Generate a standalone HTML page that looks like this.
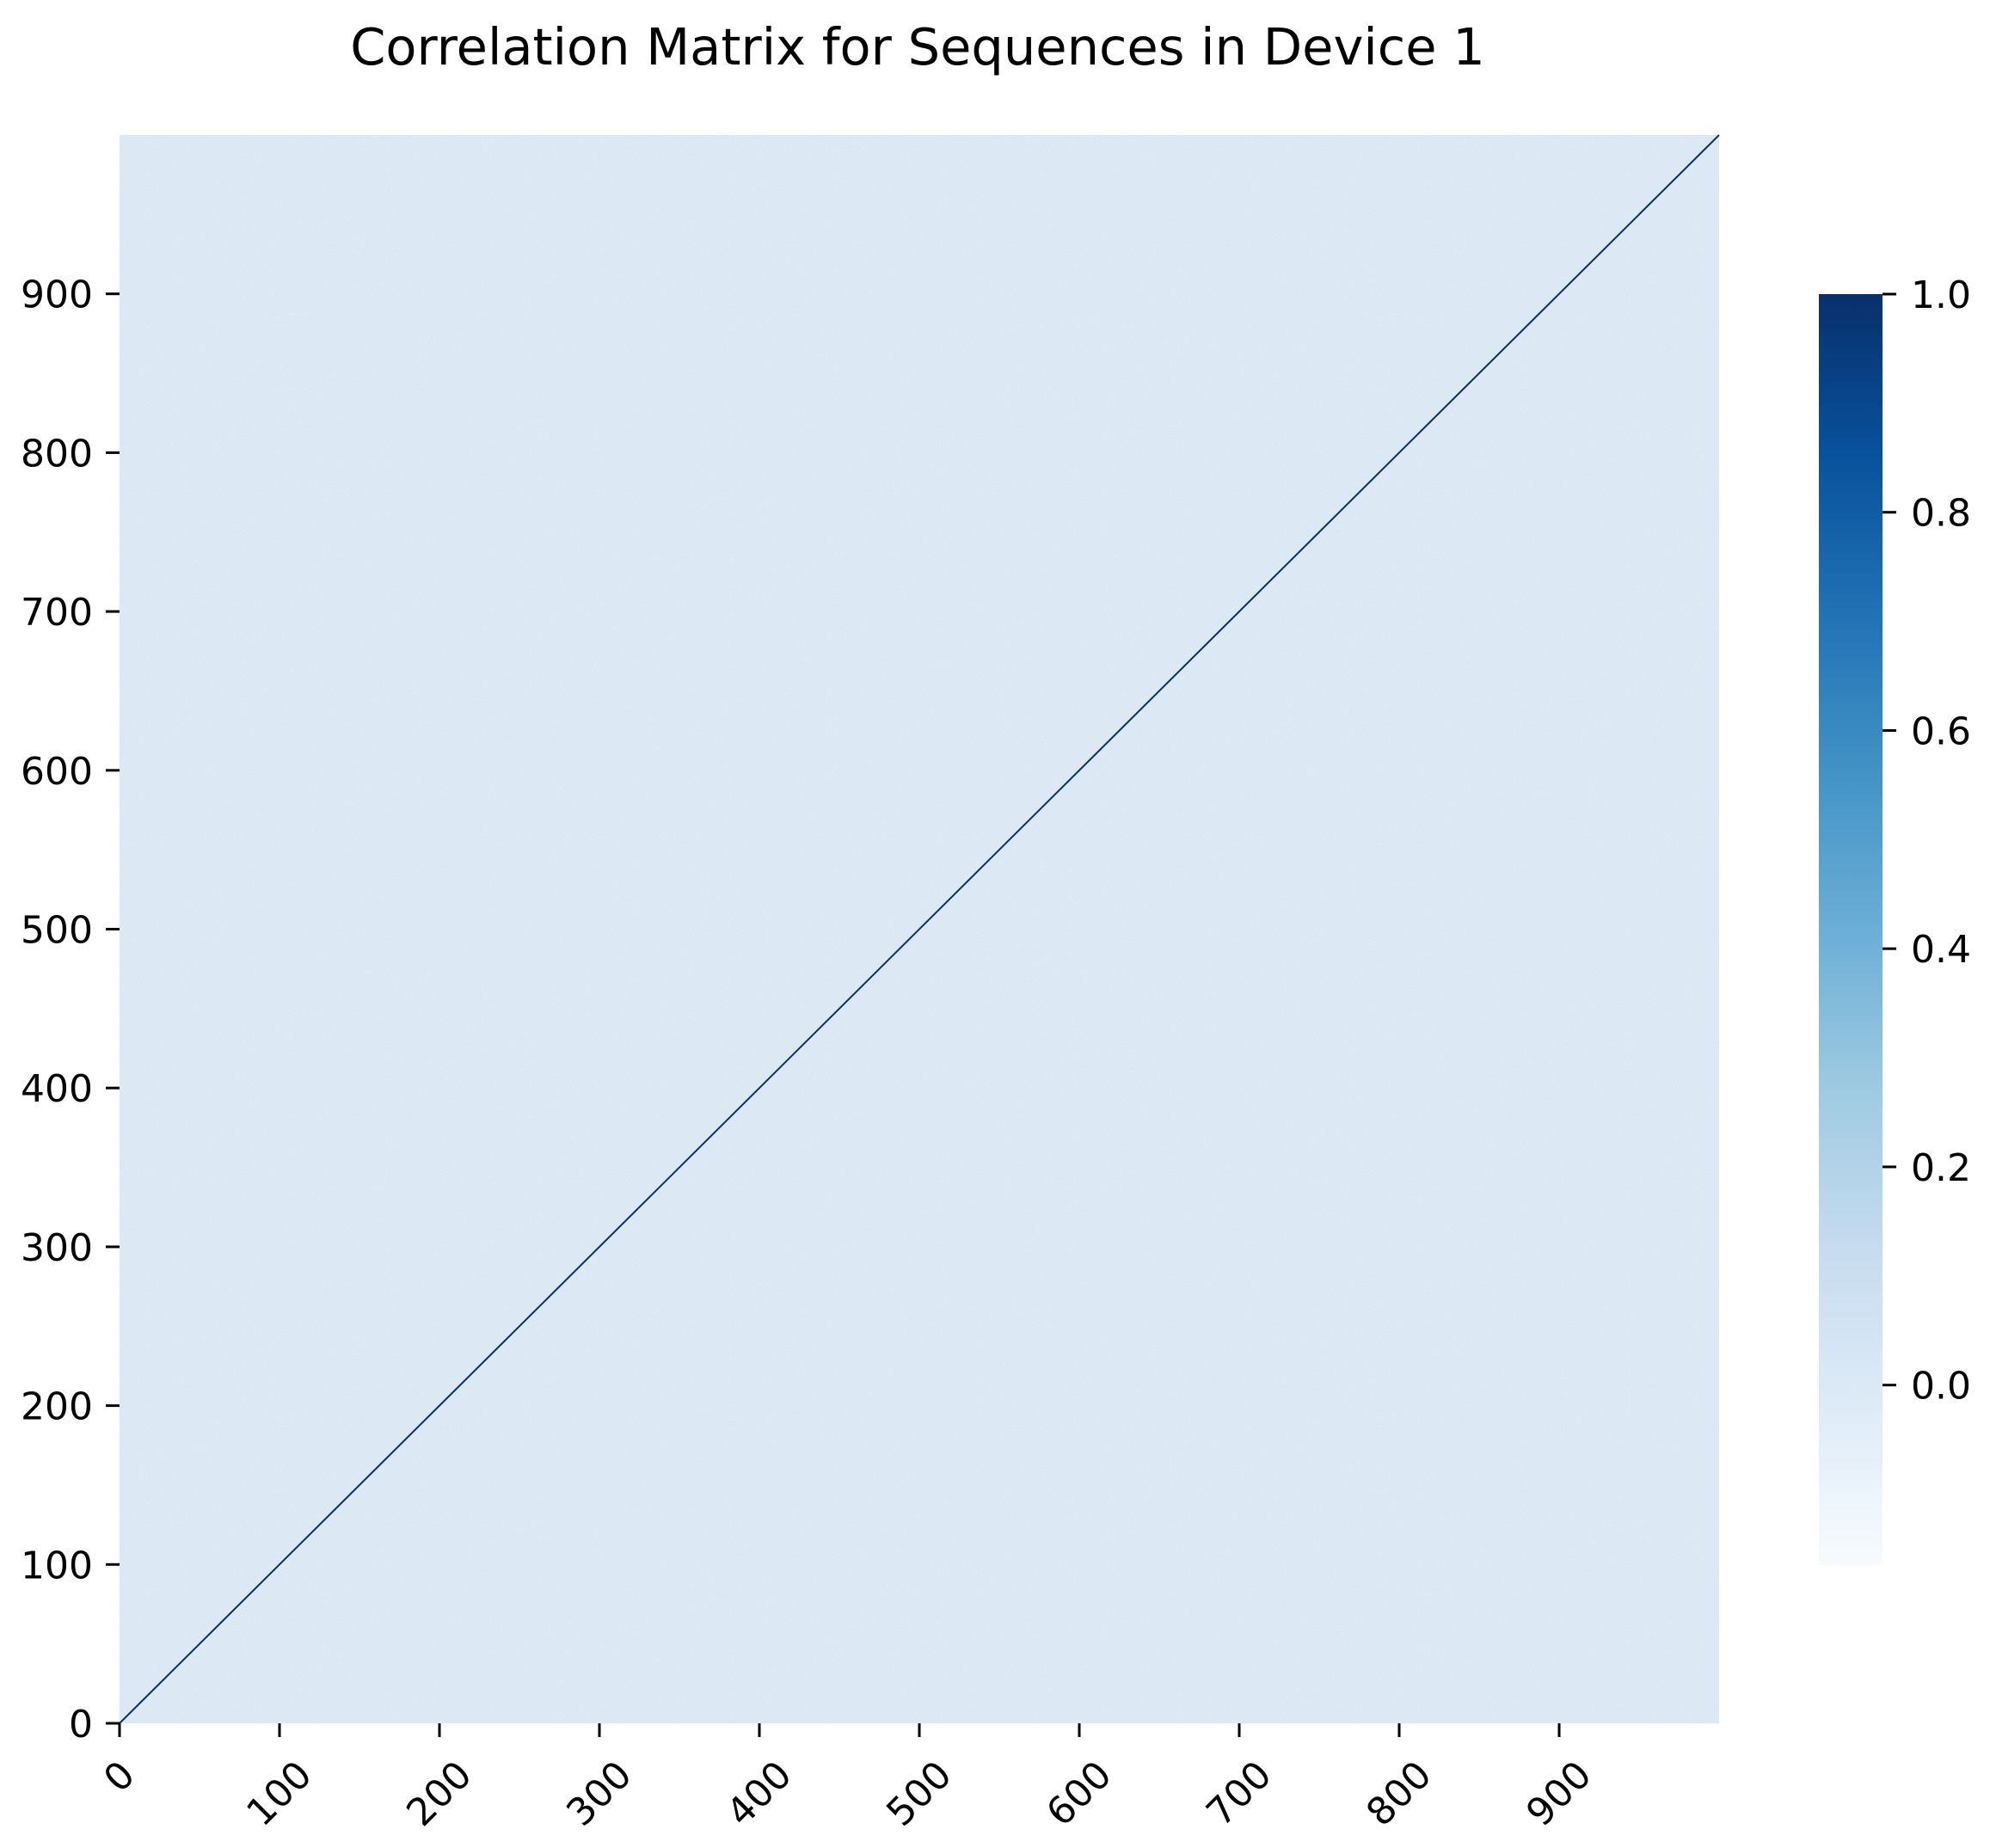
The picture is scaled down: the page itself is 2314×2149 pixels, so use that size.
<!DOCTYPE html>
<html><head><meta charset="utf-8"><style>
html,body{margin:0;padding:0;background:#fff;}
svg{display:block;font-family:"DejaVu Sans","Liberation Sans",sans-serif;}
</style></head><body>
<svg id="chart" width="2314" height="2149" viewBox="0 0 2314 2149" xmlns="http://www.w3.org/2000/svg">
<defs>
<linearGradient id="blues" x1="0" y1="1" x2="0" y2="0">
<stop offset="0" stop-color="#f7fbff"/><stop offset="0.125" stop-color="#deebf7"/><stop offset="0.25" stop-color="#c6dbef"/><stop offset="0.375" stop-color="#9ecae1"/><stop offset="0.5" stop-color="#6baed6"/><stop offset="0.625" stop-color="#4292c6"/><stop offset="0.75" stop-color="#2171b5"/><stop offset="0.875" stop-color="#08519c"/><stop offset="1" stop-color="#08306b"/>
</linearGradient>
<filter id="noise" x="0" y="0" width="100%" height="100%">
<feTurbulence type="fractalNoise" baseFrequency="0.6" numOctaves="1" seed="3" result="t"/>
<feColorMatrix in="t" type="matrix" values="0 0 0 0 1  0 0 0 0 1  0 0 0 0 1  0 0 0 0.35 -0.1"/>
<feComposite in2="SourceGraphic" operator="in"/>
</filter>
</defs>
<text x="1067" y="75" font-size="59" text-anchor="middle" fill="#000">Correlation Matrix for Sequences in Device 1</text>
<g id="plot"></g>
<g id="xaxis"></g>
<g id="yaxis"></g>
<g id="colorbar"></g>
</svg>
<script>
const nSeq = 1000;
const offDiagValue = [0.0];
const diagValue = [1.0];
const xTicks = [0,100,200,300,400,500,600,700,800,900];
const yTicks = [0,100,200,300,400,500,600,700,800,900];
const cbTicks = [0.0,0.2,0.4,0.6,0.8,1.0];
const cbRange = [-0.165, 1.0];

const NS = "http://www.w3.org/2000/svg";
const L = 139, R = 1999, T = 157, B = 2004;
const xs = v => L + (v / nSeq) * (R - L);
const ys = v => B - (v / nSeq) * (B - T);
const CBL = 2115, CBR = 2189, CBT = 342, CBB = 1820;
const cs = v => CBB - (v - cbRange[0]) / (cbRange[1] - cbRange[0]) * (CBB - CBT);
const blues = ["#f7fbff","#deebf7","#c6dbef","#9ecae1","#6baed6","#4292c6","#2171b5","#08519c","#08306b"];
function hex(h){return [1,3,5].map(i=>parseInt(h.substr(i,2),16));}
function colorFor(v){
  let t = (v - cbRange[0])/(cbRange[1]-cbRange[0]); t=Math.max(0,Math.min(1,t));
  const p = t*8, i = Math.min(7,Math.floor(p)), f = p - i;
  const a = hex(blues[i]), b = hex(blues[i+1]);
  return "rgb(" + a.map((c,k)=>Math.round(c+(b[k]-c)*f)).join(",") + ")";
}
function mk(tag, attrs, parent){
  const e = document.createElementNS(NS, tag);
  for (const k in attrs) e.setAttribute(k, attrs[k]);
  parent.appendChild(e); return e;
}
const plot = document.getElementById("plot");
const bg = mk("rect", {x:L, y:T, width:R-L, height:B-T, fill:"#d9e7f4"}, plot);


const nz = mk("rect", {x:L, y:T, width:R-L, height:B-T, fill:"#000", filter:"url(#noise)"}, plot);


const diag = mk("line", {x1:xs(0), y1:ys(0), x2:xs(nSeq), y2:ys(nSeq), stroke:colorFor(diagValue[0]), "stroke-width":2}, plot);



const xa = document.getElementById("xaxis");
xTicks.forEach(v => {
  const x = xs(v);
  const tk = mk("line", {x1:x, y1:B, x2:x, y2:B+16, stroke:"#000", "stroke-width":3}, xa);
  
  
  const s = String(v);
  const w = s.length * 28;
  const cy = 2045 + (w + 32) * 0.3535;
  const tx = mk("text", {x:x, y:cy, "font-size":44, "text-anchor":"middle", "dominant-baseline":"central", transform:"rotate(-45 "+x+" "+cy+")", fill:"#000"}, xa);
  tx.textContent = s;
  
  
});
const ya = document.getElementById("yaxis");
yTicks.forEach(v => {
  const y = ys(v);
  const tk = mk("line", {x1:L-16, y1:y, x2:L, y2:y, stroke:"#000", "stroke-width":3}, ya);
  
  
  const tx = mk("text", {x:108, y:y+16, "font-size":44, "text-anchor":"end", fill:"#000"}, ya);
  tx.textContent = String(v);
  
  
});
const cb = document.getElementById("colorbar");
const cbr = mk("rect", {x:CBL, y:CBT, width:CBR-CBL, height:CBB-CBT, fill:"url(#blues)"}, cb);


cbTicks.forEach(v => {
  const y = cs(v);
  const tk = mk("line", {x1:CBR, y1:y, x2:CBR+16, y2:y, stroke:"#000", "stroke-width":3}, cb);
  
  
  const tx = mk("text", {x:2222, y:y+16, "font-size":44, fill:"#000"}, cb);
  tx.textContent = v.toFixed(1);
  
  
});
</script>
</body></html>
